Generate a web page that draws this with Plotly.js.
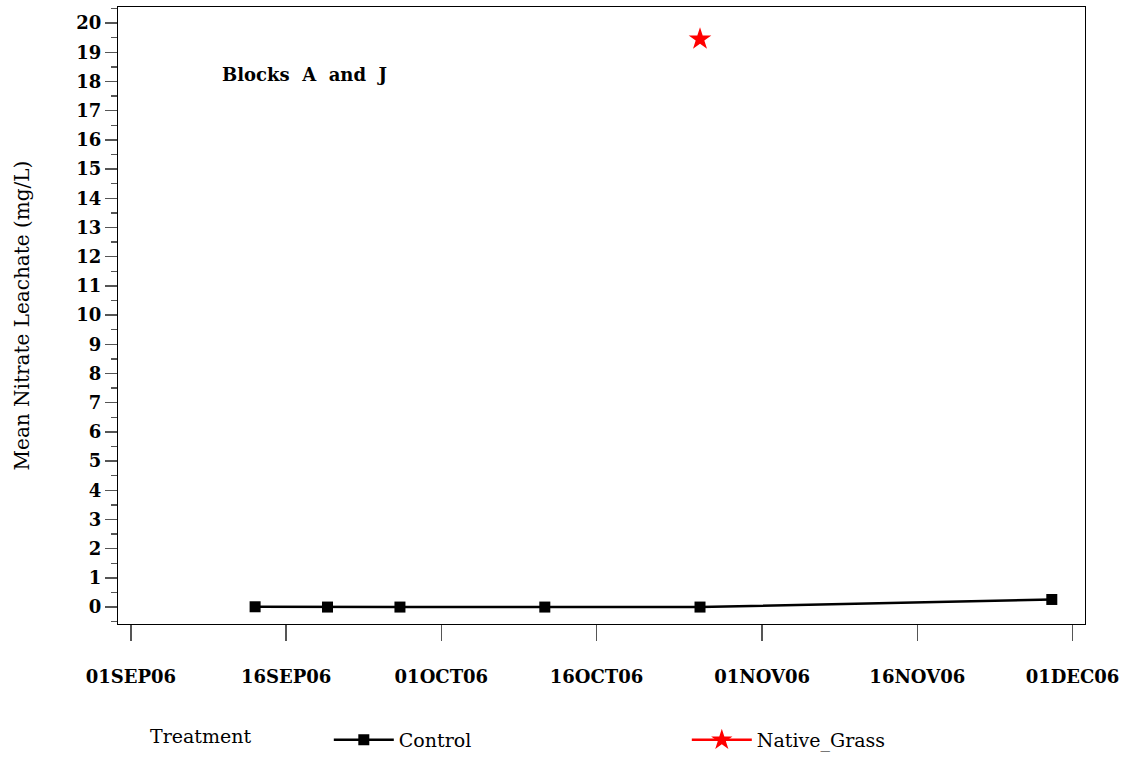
<!DOCTYPE html>
<html>
<head>
<meta charset="utf-8">
<script src="https://cdn.plot.ly/plotly-3.0.1.min.js"></script>
<style>html,body{margin:0;padding:0;background:#fff;}#chart{width:1130px;height:759px;}</style>
</head>
<body>
<div id="chart"></div>
<script>
// Data
var controlDates = ['2006-09-13', '2006-09-20', '2006-09-27', '2006-10-11', '2006-10-26', '2006-11-29'];
var controlValues = [0.01, 0, 0, 0, 0, 0.26];
var nativeDates = ['2006-10-26'];
var nativeValues = [19.45];
var xTickVals = ['2006-09-01', '2006-09-16', '2006-10-01', '2006-10-16', '2006-11-01', '2006-11-16', '2006-12-01'];
var xTickText = ['01SEP06', '16SEP06', '01OCT06', '16OCT06', '01NOV06', '16NOV06', '01DEC06'];

var serif = 'DejaVu Serif, Liberation Serif, serif';

var traces = [
  {
    x: controlDates, y: controlValues, name: 'Control', type: 'scatter', mode: 'lines+markers',
    line: {color: '#000000', width: 2.5},
    marker: {symbol: 'square', size: 11, color: '#000000'}
  },
  {
    x: nativeDates, y: nativeValues, name: 'Native_Grass', type: 'scatter', mode: 'lines+markers',
    line: {color: '#ff0000', width: 2.5},
    marker: {symbol: 'star', size: 17, color: '#ff0000'}
  }
];

var layout = {
  width: 1130, height: 759,
  margin: {l: 118, r: 45, t: 7, b: 135, autoexpand: false},
  paper_bgcolor: '#ffffff', plot_bgcolor: '#ffffff',
  showlegend: true,
  font: {family: serif, color: '#000000'},
  xaxis: {
    type: 'date',
    range: ['2006-08-30 18:00', '2006-12-02 05:00'],
    tickmode: 'array', tickvals: xTickVals, ticktext: xTickText,
    ticks: 'outside', ticklen: 16, tickwidth: 1.5, tickcolor: '#555555',
    ticklabelstandoff: 20,
    tickfont: {family: serif, size: 18, weight: 'bold', color: '#000'},
    showline: true, linecolor: '#000000', linewidth: 1, mirror: true,
    showgrid: false, zeroline: false
  },
  yaxis: {
    range: [-0.58, 20.55],
    tickmode: 'linear', tick0: 0, dtick: 1,
    ticks: 'outside', ticklen: 12, tickwidth: 1.5, tickcolor: '#555555',
    tickfont: {family: serif, size: 18, weight: 'bold', color: '#000'},
    minor: {dtick: 0.5, ticks: 'outside', ticklen: 6, tickwidth: 1.5, tickcolor: '#555555', showgrid: false},
    showline: true, linecolor: '#000000', linewidth: 1, mirror: true,
    showgrid: false, zeroline: false,
    title: {text: 'Mean Nitrate Leachate (mg/L)', font: {family: serif, size: 20, color: '#000'}, standoff: 41}
  },
  legend: {
    orientation: 'h', x: 0.218, xanchor: 'left', y: -0.188, yanchor: 'middle',
    font: {family: serif, size: 19, color: '#000'},
    entrywidth: 283, entrywidthmode: 'pixels',
    itemwidth: 60,
    bgcolor: 'rgba(0,0,0,0)'
  },
  annotations: [
    {
      text: 'Blocks  A  and  J', xref: 'paper', yref: 'paper', x: 0.105, y: 0.891,
      xanchor: 'left', yanchor: 'middle', showarrow: false,
      font: {family: serif, size: 18, weight: 'bold', color: '#000'}
    },
    {
      text: 'Treatment', xref: 'paper', yref: 'paper', x: 0.031, y: -0.182,
      xanchor: 'left', yanchor: 'middle', showarrow: false,
      font: {family: serif, size: 19, color: '#000'}
    }
  ]
};

Plotly.newPlot('chart', traces, layout, {displayModeBar: false, staticPlot: true});
</script>
</body>
</html>
